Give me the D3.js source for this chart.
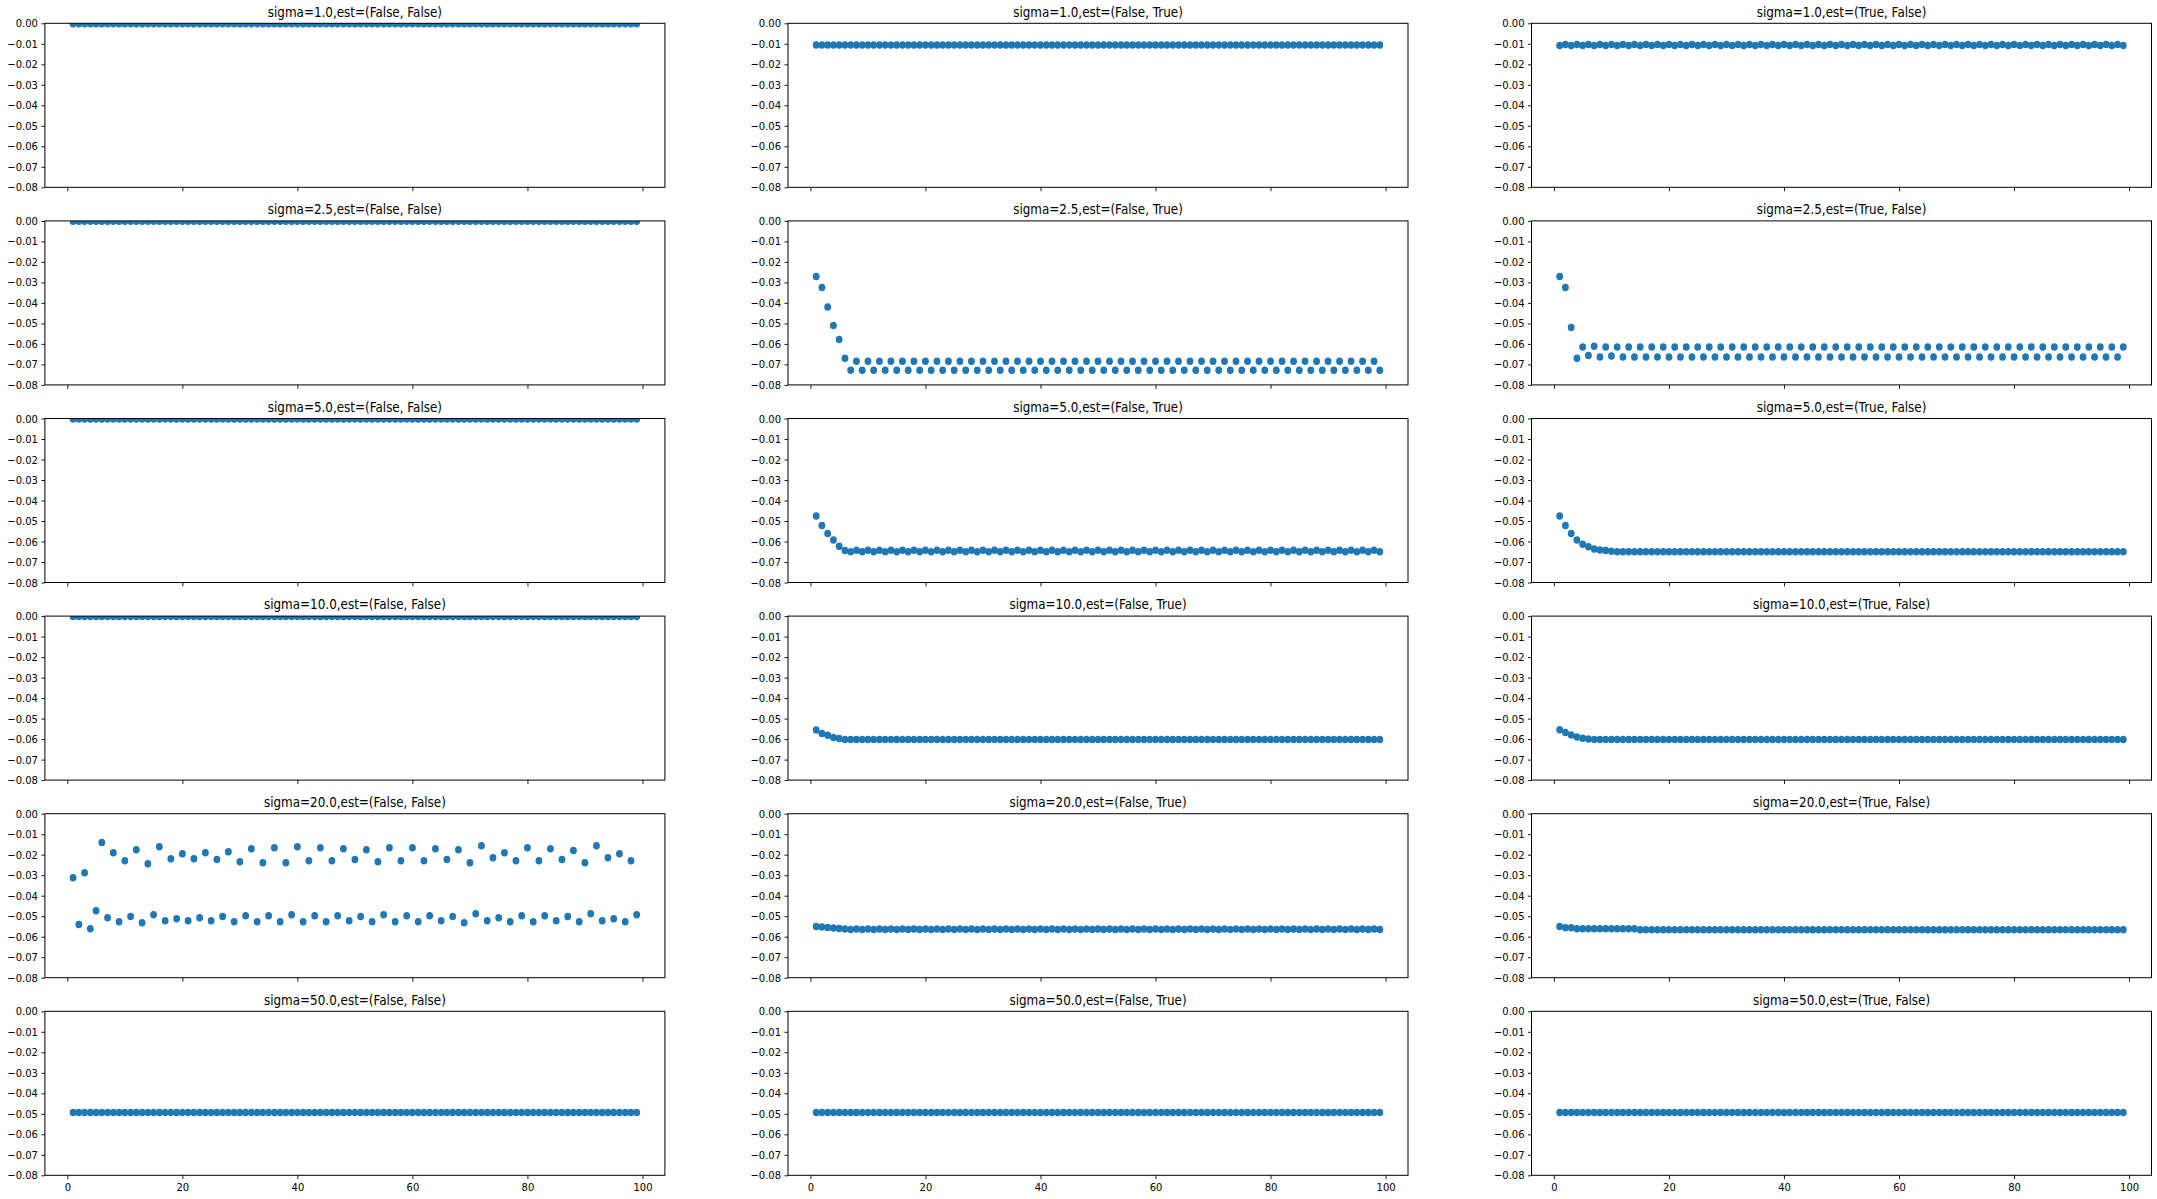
<!DOCTYPE html>
<html>
<head>
<meta charset="utf-8">
<script src="https://cdn.jsdelivr.net/npm/d3@7"></script>
<style>
  html, body { margin: 0; padding: 0; background: #fff; }
  svg text { font-family: "DejaVu Sans", sans-serif; fill: #000; }
</style>
</head>
<body>
<div id="chart"></div>
<script>
// ----------------------------------------------------------------------------------------
// panel labels and ticks
const sigmas = ["1.0", "2.5", "5.0", "10.0", "20.0", "50.0"];
const estimators = ["(False, False)", "(False, True)", "(True, False)"];
const xTicks = [0, 20, 40, 60, 80, 100];
const yTicks = [0, -0.01, -0.02, -0.03, -0.04, -0.05, -0.06, -0.07, -0.08];

// values for x = 1..99, one array per panel (rows of 10)
const s1_FF = [
  -0.0002,-0.0002,-0.0002,-0.0002,-0.0002,-0.0002,-0.0002,-0.0002,-0.0002,-0.0002,
  -0.0002,-0.0002,-0.0002,-0.0002,-0.0002,-0.0002,-0.0002,-0.0002,-0.0002,-0.0002,
  -0.0002,-0.0002,-0.0002,-0.0002,-0.0002,-0.0002,-0.0002,-0.0002,-0.0002,-0.0002,
  -0.0002,-0.0002,-0.0002,-0.0002,-0.0002,-0.0002,-0.0002,-0.0002,-0.0002,-0.0002,
  -0.0002,-0.0002,-0.0002,-0.0002,-0.0002,-0.0002,-0.0002,-0.0002,-0.0002,-0.0002,
  -0.0002,-0.0002,-0.0002,-0.0002,-0.0002,-0.0002,-0.0002,-0.0002,-0.0002,-0.0002,
  -0.0002,-0.0002,-0.0002,-0.0002,-0.0002,-0.0002,-0.0002,-0.0002,-0.0002,-0.0002,
  -0.0002,-0.0002,-0.0002,-0.0002,-0.0002,-0.0002,-0.0002,-0.0002,-0.0002,-0.0002,
  -0.0002,-0.0002,-0.0002,-0.0002,-0.0002,-0.0002,-0.0002,-0.0002,-0.0002,-0.0002,
  -0.0002,-0.0002,-0.0002,-0.0002,-0.0002,-0.0002,-0.0002,-0.0002,-0.0002
];
const s1_FT = [
  -0.0106,-0.0106,-0.0106,-0.0106,-0.0106,-0.0106,-0.0106,-0.0106,-0.0106,-0.0106,
  -0.0106,-0.0106,-0.0106,-0.0106,-0.0106,-0.0106,-0.0106,-0.0106,-0.0106,-0.0106,
  -0.0106,-0.0106,-0.0106,-0.0106,-0.0106,-0.0106,-0.0106,-0.0106,-0.0106,-0.0106,
  -0.0106,-0.0106,-0.0106,-0.0106,-0.0106,-0.0106,-0.0106,-0.0106,-0.0106,-0.0106,
  -0.0106,-0.0106,-0.0106,-0.0106,-0.0106,-0.0106,-0.0106,-0.0106,-0.0106,-0.0106,
  -0.0106,-0.0106,-0.0106,-0.0106,-0.0106,-0.0106,-0.0106,-0.0106,-0.0106,-0.0106,
  -0.0106,-0.0106,-0.0106,-0.0106,-0.0106,-0.0106,-0.0106,-0.0106,-0.0106,-0.0106,
  -0.0106,-0.0106,-0.0106,-0.0106,-0.0106,-0.0106,-0.0106,-0.0106,-0.0106,-0.0106,
  -0.0106,-0.0106,-0.0106,-0.0106,-0.0106,-0.0106,-0.0106,-0.0106,-0.0106,-0.0106,
  -0.0106,-0.0106,-0.0106,-0.0106,-0.0106,-0.0106,-0.0106,-0.0106,-0.0106
];
const s1_TF = [
  -0.0108,-0.0104,-0.0108,-0.0104,-0.0108,-0.0104,-0.0108,-0.0104,-0.0108,-0.0104,
  -0.0108,-0.0104,-0.0108,-0.0104,-0.0108,-0.0104,-0.0108,-0.0104,-0.0108,-0.0104,
  -0.0108,-0.0104,-0.0108,-0.0104,-0.0108,-0.0104,-0.0108,-0.0104,-0.0108,-0.0104,
  -0.0108,-0.0104,-0.0108,-0.0104,-0.0108,-0.0104,-0.0108,-0.0104,-0.0108,-0.0104,
  -0.0108,-0.0104,-0.0108,-0.0104,-0.0108,-0.0104,-0.0108,-0.0104,-0.0108,-0.0104,
  -0.0108,-0.0104,-0.0108,-0.0104,-0.0108,-0.0104,-0.0108,-0.0104,-0.0108,-0.0104,
  -0.0108,-0.0104,-0.0108,-0.0104,-0.0108,-0.0104,-0.0108,-0.0104,-0.0108,-0.0104,
  -0.0108,-0.0104,-0.0108,-0.0104,-0.0108,-0.0104,-0.0108,-0.0104,-0.0108,-0.0104,
  -0.0108,-0.0104,-0.0108,-0.0104,-0.0108,-0.0104,-0.0108,-0.0104,-0.0108,-0.0104,
  -0.0108,-0.0104,-0.0108,-0.0104,-0.0108,-0.0104,-0.0108,-0.0104,-0.0108
];
const s2_FF = s1_FF.slice();
const s2_FT = [
  -0.0271,-0.0325,-0.0420,-0.0510,-0.0578,-0.0670,-0.0729,-0.0685,-0.0729,-0.0685,
  -0.0729,-0.0685,-0.0729,-0.0685,-0.0729,-0.0685,-0.0729,-0.0685,-0.0729,-0.0685,
  -0.0729,-0.0685,-0.0729,-0.0685,-0.0729,-0.0685,-0.0729,-0.0685,-0.0729,-0.0685,
  -0.0729,-0.0685,-0.0729,-0.0685,-0.0729,-0.0685,-0.0729,-0.0685,-0.0729,-0.0685,
  -0.0729,-0.0685,-0.0729,-0.0685,-0.0729,-0.0685,-0.0729,-0.0685,-0.0729,-0.0685,
  -0.0729,-0.0685,-0.0729,-0.0685,-0.0729,-0.0685,-0.0729,-0.0685,-0.0729,-0.0685,
  -0.0729,-0.0685,-0.0729,-0.0685,-0.0729,-0.0685,-0.0729,-0.0685,-0.0729,-0.0685,
  -0.0729,-0.0685,-0.0729,-0.0685,-0.0729,-0.0685,-0.0729,-0.0685,-0.0729,-0.0685,
  -0.0729,-0.0685,-0.0729,-0.0685,-0.0729,-0.0685,-0.0729,-0.0685,-0.0729,-0.0685,
  -0.0729,-0.0685,-0.0729,-0.0685,-0.0729,-0.0685,-0.0729,-0.0685,-0.0729
];
const s2_TF = [
  -0.0271,-0.0325,-0.0520,-0.0670,-0.0615,-0.0656,-0.0612,-0.0664,-0.0615,-0.0659,
  -0.0615,-0.0664,-0.0615,-0.0664,-0.0615,-0.0664,-0.0615,-0.0664,-0.0615,-0.0664,
  -0.0615,-0.0664,-0.0615,-0.0664,-0.0615,-0.0664,-0.0615,-0.0664,-0.0615,-0.0664,
  -0.0615,-0.0664,-0.0615,-0.0664,-0.0615,-0.0664,-0.0615,-0.0664,-0.0615,-0.0664,
  -0.0615,-0.0664,-0.0615,-0.0664,-0.0615,-0.0664,-0.0615,-0.0664,-0.0615,-0.0664,
  -0.0615,-0.0664,-0.0615,-0.0664,-0.0615,-0.0664,-0.0615,-0.0664,-0.0615,-0.0664,
  -0.0615,-0.0664,-0.0615,-0.0664,-0.0615,-0.0664,-0.0615,-0.0664,-0.0615,-0.0664,
  -0.0615,-0.0664,-0.0615,-0.0664,-0.0615,-0.0664,-0.0615,-0.0664,-0.0615,-0.0664,
  -0.0615,-0.0664,-0.0615,-0.0664,-0.0615,-0.0664,-0.0615,-0.0664,-0.0615,-0.0664,
  -0.0615,-0.0664,-0.0615,-0.0664,-0.0615,-0.0664,-0.0615,-0.0664,-0.0615
];
const s3_FF = s1_FF.slice();
const s3_FT = [
  -0.0476,-0.0522,-0.0561,-0.0593,-0.0623,-0.0644,-0.0650,-0.0643,-0.0650,-0.0643,
  -0.0650,-0.0643,-0.0650,-0.0643,-0.0650,-0.0643,-0.0650,-0.0643,-0.0650,-0.0643,
  -0.0650,-0.0643,-0.0650,-0.0643,-0.0650,-0.0643,-0.0650,-0.0643,-0.0650,-0.0643,
  -0.0650,-0.0643,-0.0650,-0.0643,-0.0650,-0.0643,-0.0650,-0.0643,-0.0650,-0.0643,
  -0.0650,-0.0643,-0.0650,-0.0643,-0.0650,-0.0643,-0.0650,-0.0643,-0.0650,-0.0643,
  -0.0650,-0.0643,-0.0650,-0.0643,-0.0650,-0.0643,-0.0650,-0.0643,-0.0650,-0.0643,
  -0.0650,-0.0643,-0.0650,-0.0643,-0.0650,-0.0643,-0.0650,-0.0643,-0.0650,-0.0643,
  -0.0650,-0.0643,-0.0650,-0.0643,-0.0650,-0.0643,-0.0650,-0.0643,-0.0650,-0.0643,
  -0.0650,-0.0643,-0.0650,-0.0643,-0.0650,-0.0643,-0.0650,-0.0643,-0.0650,-0.0643,
  -0.0650,-0.0643,-0.0650,-0.0643,-0.0650,-0.0643,-0.0650,-0.0643,-0.0650
];
const s3_TF = [
  -0.0476,-0.0522,-0.0561,-0.0593,-0.0613,-0.0626,-0.0636,-0.0642,-0.0644,-0.0647,
  -0.0650,-0.0650,-0.0650,-0.0650,-0.0650,-0.0650,-0.0650,-0.0650,-0.0650,-0.0650,
  -0.0650,-0.0650,-0.0650,-0.0650,-0.0650,-0.0650,-0.0650,-0.0650,-0.0650,-0.0650,
  -0.0650,-0.0650,-0.0650,-0.0650,-0.0650,-0.0650,-0.0650,-0.0650,-0.0650,-0.0650,
  -0.0650,-0.0650,-0.0650,-0.0650,-0.0650,-0.0650,-0.0650,-0.0650,-0.0650,-0.0650,
  -0.0650,-0.0650,-0.0650,-0.0650,-0.0650,-0.0650,-0.0650,-0.0650,-0.0650,-0.0650,
  -0.0650,-0.0650,-0.0650,-0.0650,-0.0650,-0.0650,-0.0650,-0.0650,-0.0650,-0.0650,
  -0.0650,-0.0650,-0.0650,-0.0650,-0.0650,-0.0650,-0.0650,-0.0650,-0.0650,-0.0650,
  -0.0650,-0.0650,-0.0650,-0.0650,-0.0650,-0.0650,-0.0650,-0.0650,-0.0650,-0.0650,
  -0.0650,-0.0650,-0.0650,-0.0650,-0.0650,-0.0650,-0.0650,-0.0650,-0.0650
];
const s4_FF = s1_FF.slice();
const s4_FT = [
  -0.0556,-0.0573,-0.0581,-0.0592,-0.0597,-0.0602,-0.0602,-0.0602,-0.0602,-0.0602,
  -0.0602,-0.0602,-0.0602,-0.0602,-0.0602,-0.0602,-0.0602,-0.0602,-0.0602,-0.0602,
  -0.0602,-0.0602,-0.0602,-0.0602,-0.0602,-0.0602,-0.0602,-0.0602,-0.0602,-0.0602,
  -0.0602,-0.0602,-0.0602,-0.0602,-0.0602,-0.0602,-0.0602,-0.0602,-0.0602,-0.0602,
  -0.0602,-0.0602,-0.0602,-0.0602,-0.0602,-0.0602,-0.0602,-0.0602,-0.0602,-0.0602,
  -0.0602,-0.0602,-0.0602,-0.0602,-0.0602,-0.0602,-0.0602,-0.0602,-0.0602,-0.0602,
  -0.0602,-0.0602,-0.0602,-0.0602,-0.0602,-0.0602,-0.0602,-0.0602,-0.0602,-0.0602,
  -0.0602,-0.0602,-0.0602,-0.0602,-0.0602,-0.0602,-0.0602,-0.0602,-0.0602,-0.0602,
  -0.0602,-0.0602,-0.0602,-0.0602,-0.0602,-0.0602,-0.0602,-0.0602,-0.0602,-0.0602,
  -0.0602,-0.0602,-0.0602,-0.0602,-0.0602,-0.0602,-0.0602,-0.0602,-0.0602
];
const s4_TF = [
  -0.0554,-0.0568,-0.0580,-0.0590,-0.0596,-0.0600,-0.0602,-0.0602,-0.0602,-0.0602,
  -0.0602,-0.0602,-0.0602,-0.0602,-0.0602,-0.0602,-0.0602,-0.0602,-0.0602,-0.0602,
  -0.0602,-0.0602,-0.0602,-0.0602,-0.0602,-0.0602,-0.0602,-0.0602,-0.0602,-0.0602,
  -0.0602,-0.0602,-0.0602,-0.0602,-0.0602,-0.0602,-0.0602,-0.0602,-0.0602,-0.0602,
  -0.0602,-0.0602,-0.0602,-0.0602,-0.0602,-0.0602,-0.0602,-0.0602,-0.0602,-0.0602,
  -0.0602,-0.0602,-0.0602,-0.0602,-0.0602,-0.0602,-0.0602,-0.0602,-0.0602,-0.0602,
  -0.0602,-0.0602,-0.0602,-0.0602,-0.0602,-0.0602,-0.0602,-0.0602,-0.0602,-0.0602,
  -0.0602,-0.0602,-0.0602,-0.0602,-0.0602,-0.0602,-0.0602,-0.0602,-0.0602,-0.0602,
  -0.0602,-0.0602,-0.0602,-0.0602,-0.0602,-0.0602,-0.0602,-0.0602,-0.0602,-0.0602,
  -0.0602,-0.0602,-0.0602,-0.0602,-0.0602,-0.0602,-0.0602,-0.0602,-0.0602
];
const s5_FF = [
  -0.0312,-0.0541,-0.0288,-0.0561,-0.0473,-0.0141,-0.0507,-0.0190,-0.0527,-0.0229,
  -0.0502,-0.0176,-0.0532,-0.0244,-0.0493,-0.0161,-0.0522,-0.0220,-0.0512,-0.0195,
  -0.0522,-0.0220,-0.0507,-0.0190,-0.0522,-0.0224,-0.0502,-0.0185,-0.0527,-0.0234,
  -0.0498,-0.0171,-0.0527,-0.0239,-0.0498,-0.0166,-0.0527,-0.0239,-0.0493,-0.0161,
  -0.0527,-0.0229,-0.0498,-0.0166,-0.0527,-0.0229,-0.0498,-0.0171,-0.0522,-0.0224,
  -0.0502,-0.0176,-0.0527,-0.0234,-0.0493,-0.0166,-0.0527,-0.0229,-0.0498,-0.0166,
  -0.0527,-0.0229,-0.0498,-0.0171,-0.0522,-0.0224,-0.0502,-0.0176,-0.0532,-0.0239,
  -0.0488,-0.0156,-0.0522,-0.0215,-0.0507,-0.0190,-0.0527,-0.0229,-0.0498,-0.0166,
  -0.0527,-0.0229,-0.0498,-0.0171,-0.0522,-0.0224,-0.0502,-0.0180,-0.0527,-0.0239,
  -0.0488,-0.0156,-0.0522,-0.0215,-0.0512,-0.0195,-0.0527,-0.0229,-0.0493
];
const s5_FT = [
  -0.0550,-0.0553,-0.0555,-0.0558,-0.0560,-0.0563,-0.0565,-0.0562,-0.0565,-0.0562,
  -0.0565,-0.0562,-0.0565,-0.0562,-0.0565,-0.0562,-0.0565,-0.0562,-0.0565,-0.0562,
  -0.0565,-0.0562,-0.0565,-0.0562,-0.0565,-0.0562,-0.0565,-0.0562,-0.0565,-0.0562,
  -0.0565,-0.0562,-0.0565,-0.0562,-0.0565,-0.0562,-0.0565,-0.0562,-0.0565,-0.0562,
  -0.0565,-0.0562,-0.0565,-0.0562,-0.0565,-0.0562,-0.0565,-0.0562,-0.0565,-0.0562,
  -0.0565,-0.0562,-0.0565,-0.0562,-0.0565,-0.0562,-0.0565,-0.0562,-0.0565,-0.0562,
  -0.0565,-0.0562,-0.0565,-0.0562,-0.0565,-0.0562,-0.0565,-0.0562,-0.0565,-0.0562,
  -0.0565,-0.0562,-0.0565,-0.0562,-0.0565,-0.0562,-0.0565,-0.0562,-0.0565,-0.0562,
  -0.0565,-0.0562,-0.0565,-0.0562,-0.0565,-0.0562,-0.0565,-0.0562,-0.0565,-0.0562,
  -0.0565,-0.0562,-0.0565,-0.0562,-0.0565,-0.0562,-0.0565,-0.0562,-0.0565
];
const s5_TF = [
  -0.0550,-0.0556,-0.0556,-0.0561,-0.0561,-0.0561,-0.0561,-0.0561,-0.0561,-0.0561,
  -0.0561,-0.0561,-0.0561,-0.0561,-0.0566,-0.0566,-0.0566,-0.0566,-0.0566,-0.0566,
  -0.0566,-0.0566,-0.0566,-0.0566,-0.0566,-0.0566,-0.0566,-0.0566,-0.0566,-0.0566,
  -0.0566,-0.0566,-0.0566,-0.0566,-0.0566,-0.0566,-0.0566,-0.0566,-0.0566,-0.0566,
  -0.0566,-0.0566,-0.0566,-0.0566,-0.0566,-0.0566,-0.0566,-0.0566,-0.0566,-0.0566,
  -0.0566,-0.0566,-0.0566,-0.0566,-0.0566,-0.0566,-0.0566,-0.0566,-0.0566,-0.0566,
  -0.0566,-0.0566,-0.0566,-0.0566,-0.0566,-0.0566,-0.0566,-0.0566,-0.0566,-0.0566,
  -0.0566,-0.0566,-0.0566,-0.0566,-0.0566,-0.0566,-0.0566,-0.0566,-0.0566,-0.0566,
  -0.0566,-0.0566,-0.0566,-0.0566,-0.0566,-0.0566,-0.0566,-0.0566,-0.0566,-0.0566,
  -0.0566,-0.0566,-0.0566,-0.0566,-0.0566,-0.0566,-0.0566,-0.0566,-0.0566
];
const s6_FF = [
  -0.0494,-0.0494,-0.0494,-0.0494,-0.0494,-0.0494,-0.0494,-0.0494,-0.0494,-0.0494,
  -0.0494,-0.0494,-0.0494,-0.0494,-0.0494,-0.0494,-0.0494,-0.0494,-0.0494,-0.0494,
  -0.0494,-0.0494,-0.0494,-0.0494,-0.0494,-0.0494,-0.0494,-0.0494,-0.0494,-0.0494,
  -0.0494,-0.0494,-0.0494,-0.0494,-0.0494,-0.0494,-0.0494,-0.0494,-0.0494,-0.0494,
  -0.0494,-0.0494,-0.0494,-0.0494,-0.0494,-0.0494,-0.0494,-0.0494,-0.0494,-0.0494,
  -0.0494,-0.0494,-0.0494,-0.0494,-0.0494,-0.0494,-0.0494,-0.0494,-0.0494,-0.0494,
  -0.0494,-0.0494,-0.0494,-0.0494,-0.0494,-0.0494,-0.0494,-0.0494,-0.0494,-0.0494,
  -0.0494,-0.0494,-0.0494,-0.0494,-0.0494,-0.0494,-0.0494,-0.0494,-0.0494,-0.0494,
  -0.0494,-0.0494,-0.0494,-0.0494,-0.0494,-0.0494,-0.0494,-0.0494,-0.0494,-0.0494,
  -0.0494,-0.0494,-0.0494,-0.0494,-0.0494,-0.0494,-0.0494,-0.0494,-0.0494
];
const s6_FT = s6_FF.slice();
const s6_TF = s6_FF.slice();

const seriesGrid = [
  [s1_FF, s1_FT, s1_TF],
  [s2_FF, s2_FT, s2_TF],
  [s3_FF, s3_FT, s3_TF],
  [s4_FF, s4_FT, s4_TF],
  [s5_FF, s5_FT, s5_TF],
  [s6_FF, s6_FT, s6_TF]
];

// ======================================================================================================
// layout measured off the reference (its text is a bit narrower than tall)
const W = 2157, H = 1199;
const colLeft = [44.9, 788, 1531.5], axW = 620;
const rowTop0 = 23.3, rowStep = 197.6, axH = 164;
const squeeze = 0.9;
const dotColor = "#1f77b4";

const svg = d3.select("#chart")
    .append("svg")
    .attr("width", W)
    .attr("height", H);

const styleAxis = function(ax) {
    ax.attr("font-family", null).attr("font-size", null);
    ax.select(".domain").remove();
    ax.selectAll("line").attr("stroke", "#000").attr("stroke-width", 0.9);
    ax.selectAll("text").style("font-size", "11.1px");
};

sigmas.forEach((sig, r) => {
    estimators.forEach((est, c) => {
        let data = seriesGrid[r][c];
        let left = colLeft[c], top = rowTop0 + r * rowStep;

        let x = d3.scaleLinear().domain([-3.9, 103.9]).range([0, axW]);
        let y = d3.scaleLinear().domain([-0.08, 0]).range([axH, 0]);

        let g = svg.append("g").attr("transform", "translate(" + left + "," + top + ")");

        // points, clipped to the axes box like matplotlib does
        let clipId = "clip-" + r + "-" + c;
        g.append("clipPath").attr("id", clipId)
            .append("rect").attr("width", axW).attr("height", axH);
        g.append("g")
            .attr("clip-path", "url(#" + clipId + ")")
            .selectAll("ellipse")
            .data(data)
            .enter()
            .append("ellipse")
            .attr("cx", (d, i) => x(i + 1))
            .attr("cy", (d) => y(d))
            .attr("rx", 3.4)
            .attr("ry", 3.75)
            .attr("fill", dotColor);

        // y axis
        let yAxis = g.append("g")
            .call(d3.axisLeft(y).tickValues(yTicks).tickSize(3.5).tickPadding(3.5)
                .tickSizeOuter(0).tickFormat(d3.format(".2f")));
        styleAxis(yAxis);
        yAxis.selectAll("text")
            .attr("x", -7 / squeeze)
            .attr("transform", "scale(" + squeeze + ",1)");

        // x axis, labels only on the bottom row
        let xAxis = g.append("g")
            .attr("transform", "translate(0," + axH + ")")
            .call(d3.axisBottom(x).tickValues(xTicks).tickSize(3.9).tickPadding(3.9)
                .tickSizeOuter(0).tickFormat(r === sigmas.length - 1 ? d3.format("d") : () => ""));
        styleAxis(xAxis);
        xAxis.selectAll("text").attr("transform", "scale(" + squeeze + ",1)");

        // frame
        g.append("rect")
            .attr("width", axW)
            .attr("height", axH)
            .attr("fill", "none")
            .attr("stroke", "#000")
            .attr("stroke-width", 1);

        // title
        g.append("g")
            .attr("transform", "translate(" + (axW / 2) + "," + (-6.7) + ")")
            .append("text")
            .attr("text-anchor", "middle")
            .attr("transform", "scale(" + squeeze + ",1)")
            .style("font-size", "13.3px")
            .text("sigma=" + sig + ",est=" + est);
    });
});
</script>
</body>
</html>
